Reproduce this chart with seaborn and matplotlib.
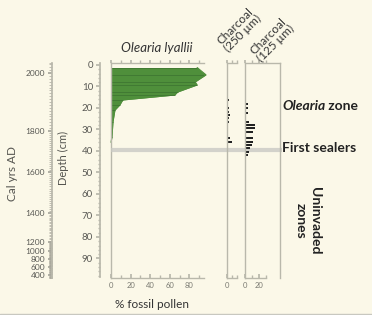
import numpy as np
import matplotlib
matplotlib.use("Agg")
import matplotlib.pyplot as plt
import matplotlib.transforms as mtransforms
from matplotlib.lines import Line2D
from matplotlib.ticker import MultipleLocator, FixedLocator
import seaborn as sns

# --- data ---
# Olearia lyallii pollen (% fossil pollen) by core depth (cm)
pollen_depth = [1.2, 4.6, 7.9, 9.3, 12.6, 14.0, 16.3, 18.6, 21.0, 26.5, 33.5, 36.0]
pollen_pct = [88, 97, 86, 88, 68, 65, 12, 9, 4, 2, 1, 0]

# charcoal counts, two size fractions
char250_depth = [4.7, 14.0, 16.3, 20.0, 21.9, 23.3, 24.7, 26.5, 31.0, 34.0, 35.8, 51.0]
char250_count = [1, 1, 3, 3, 3, 4, 3, 3, 1, 4, 7, 1]
char125_depth = [16.3, 18.1, 20.0, 22.3, 26.5, 27.9, 29.3, 31.2, 34.0, 35.8, 37.2, 38.6, 40.5, 41.9, 47.4]
char125_count = [1.5, 4, 4, 4, 6, 14, 14, 11, 11, 11, 10, 7, 6, 4, 1.5]

# age-depth model (cal yrs AD vs depth)
age_depth = [0.5, 5.1, 31.2, 49.8, 68.4, 81.4, 85.6, 89.3, 92.6, 96.3, 97.7]
age_year = [2035, 2000, 1800, 1600, 1400, 1200, 1000, 800, 600, 400, 325]
age_ticks = [2000, 1800, 1600, 1400, 1200, 1000, 800, 600, 400]

sealer_depth = 39.5
zone_depths = {"olearia": 19.0, "sealers": 38.6, "uninvaded": 72.6}

# --- style ---
bg = "#fbf8e8"
spine_c = "#b9b8ab"
green = "#4f8f3b"
sns.set_theme(style="ticks", rc={"figure.facecolor": bg, "axes.facecolor": "none",
                                 "savefig.facecolor": bg})
plt.rcParams["font.family"] = ["Lato", "DejaVu Sans"]

W, H = 372, 315
fig = plt.figure(figsize=(W / 100, H / 100), dpi=100)


def px_axes(x0, x1, y0, y1):
    return fig.add_axes([x0 / W, 1 - y1 / H, (x1 - x0) / W, (y1 - y0) / H])


ylim = (99.1, -0.9)

# --- pollen panel ---
ax = px_axes(111, 204, 63, 278)
ax.fill_betweenx(pollen_depth, 0, pollen_pct, color=green, lw=0, clip_on=False)
sns.lineplot(x=pollen_pct, y=pollen_depth, orient="y", sort=False, estimator=None,
             color=green, lw=0.8, ax=ax, clip_on=False)
ax.hlines(pollen_depth[:-1], 0, pollen_pct[:-1], color="#3c7230", lw=0.5)
ax.set_xlim(0, 95)
ax.set_ylim(*ylim)

# --- charcoal panels ---
ax250 = px_axes(227, 244, 63, 278)
ax250.barh(char250_depth, char250_count, height=0.8, color="#222222", lw=0)
ax250.set_xlim(0, 24)
ax250.set_ylim(*ylim)

ax125 = px_axes(245, 280, 63, 278)
ax125.barh(char125_depth, char125_count, height=0.8, color="#222222", lw=0)
ax125.set_xlim(0, 50)
ax125.set_ylim(*ylim)

panel_ticks = [
    (ax, [0, 20, 40, 60, 80], [10, 30, 50, 70, 90], None),
    (ax250, [0], [7, 14], (0, 14)),
    (ax125, [0, 20], [10, 30], (0, 30)),
]
for a, major, minor, bounds in panel_ticks:
    for s in a.spines.values():
        s.set_color(spine_c)
        s.set_linewidth(1.0)
    a.spines["right"].set_visible(a is ax125)
    a.spines["top"].set_visible(False)
    if bounds is not None:
        a.spines["bottom"].set_bounds(*bounds)
    a.tick_params(axis="y", left=False, labelleft=False)
    a.xaxis.set_major_locator(FixedLocator(major))
    a.xaxis.set_minor_locator(FixedLocator(minor))
    a.tick_params(axis="x", which="both", top=False, bottom=True, direction="in",
                  color=spine_c, labelsize=5.5, labelcolor="#7a7a72", pad=3)
    a.tick_params(axis="x", which="major", length=3)
    a.tick_params(axis="x", which="minor", length=2)
    a.set_xlabel("")
    a.set_ylabel("")

    # top axis: ticks pointing upward, no labels
    top = a.secondary_xaxis("top")
    top.spines["top"].set_color(spine_c)
    top.spines["top"].set_linewidth(1.0)
    if bounds is not None and a is ax250:
        top.spines["top"].set_bounds(*bounds)
    top.set_xticks(major)
    top.xaxis.set_minor_locator(FixedLocator(minor))
    top.tick_params(axis="x", which="both", direction="out", color=spine_c,
                    labeltop=False, length=2)

# --- depth axis ---
dep = ax.secondary_yaxis(-11 / 93)
dep.spines["left"].set_color(spine_c)
dep.spines["left"].set_bounds(98.5, -0.9)
dep.set_yticks(list(range(0, 100, 10)))
dep.yaxis.set_minor_locator(MultipleLocator(2))
dep.tick_params(axis="y", which="both", color=spine_c, labelsize=7, labelcolor="#5a5a55", pad=2)
dep.tick_params(axis="y", which="major", length=3)
dep.tick_params(axis="y", which="minor", length=1.5)


# --- calendar age axis ---
def to_year(d):
    return np.interp(d, age_depth, age_year)


def to_depth(y):
    return np.interp(y, age_year[::-1], age_depth[::-1])


cal = ax.secondary_yaxis(-59 / 93, functions=(to_year, to_depth))
cal.spines["left"].set_color(spine_c)
cal.spines["left"].set_bounds(age_year[-1], age_year[0])
cal.set_yticks(age_ticks)
cal.yaxis.set_minor_locator(MultipleLocator(10))
cal.tick_params(axis="y", which="both", color="#a8a79c", labelsize=6, labelcolor="#5a5a55", pad=2)
cal.tick_params(axis="y", which="major", length=3)
cal.tick_params(axis="y", which="minor", length=2, width=0.5)

# --- labels ---
fig.text(12 / W, 1 - 173 / H, "Cal yrs AD", rotation=90, ha="center", va="center",
         fontsize=8.5, color="#555550")
fig.text(63 / W, 1 - 158 / H, "Depth (cm)", rotation=90, ha="center", va="center",
         fontsize=8, color="#555550")
fig.text(157 / W, 1 - 48 / H, "Olearia lyallii", ha="center", va="center",
         fontsize=9.5, style="italic", color="#333333")
fig.text(229 / W, 1 - 53 / H, "Charcoal\n(250 µm)", rotation=45, rotation_mode="anchor",
         ha="left", va="baseline", multialignment="center", fontsize=8.5, color="#333333",
         linespacing=0.95)
fig.text(262 / W, 1 - 63 / H, "Charcoal\n(125 µm)", rotation=45, rotation_mode="anchor",
         ha="left", va="baseline", multialignment="center", fontsize=8.5, color="#333333",
         linespacing=0.95)
fig.text(152 / W, 1 - 305 / H, "% fossil pollen", ha="center", va="center",
         fontsize=8.5, color="#333333")

# sealer horizon across all panels
tr = mtransforms.blended_transform_factory(fig.transFigure, ax.transData)
ax.plot([111 / W, 282 / W], [sealer_depth, sealer_depth], transform=tr, color="#c9c9c4",
        lw=3, alpha=0.8, clip_on=False, solid_capstyle="butt", zorder=5)

t1 = ax.text(282 / W, zone_depths["olearia"], "Olearia", transform=tr, ha="left",
             va="center", fontsize=10, style="italic", weight="bold", color="#222222")
ax.annotate(" zone", xy=(1, 0.5), xycoords=t1, ha="left", va="center",
            fontsize=10, weight="bold", color="#222222")
ax.text(282 / W, zone_depths["sealers"], "First sealers", transform=tr, ha="left",
        va="center", fontsize=10, weight="bold", color="#222222")
ax.text(308 / W, zone_depths["uninvaded"], "Uninvaded\nzones", transform=tr, ha="center",
        va="center", rotation=-90, fontsize=10, weight="bold", color="#222222",
        multialignment="center", linespacing=1.3)

fig.add_artist(Line2D([0, 1], [1.5 / H, 1.5 / H], color="#c8c8c0", lw=1))

fig.savefig("out.png", dpi=100)
